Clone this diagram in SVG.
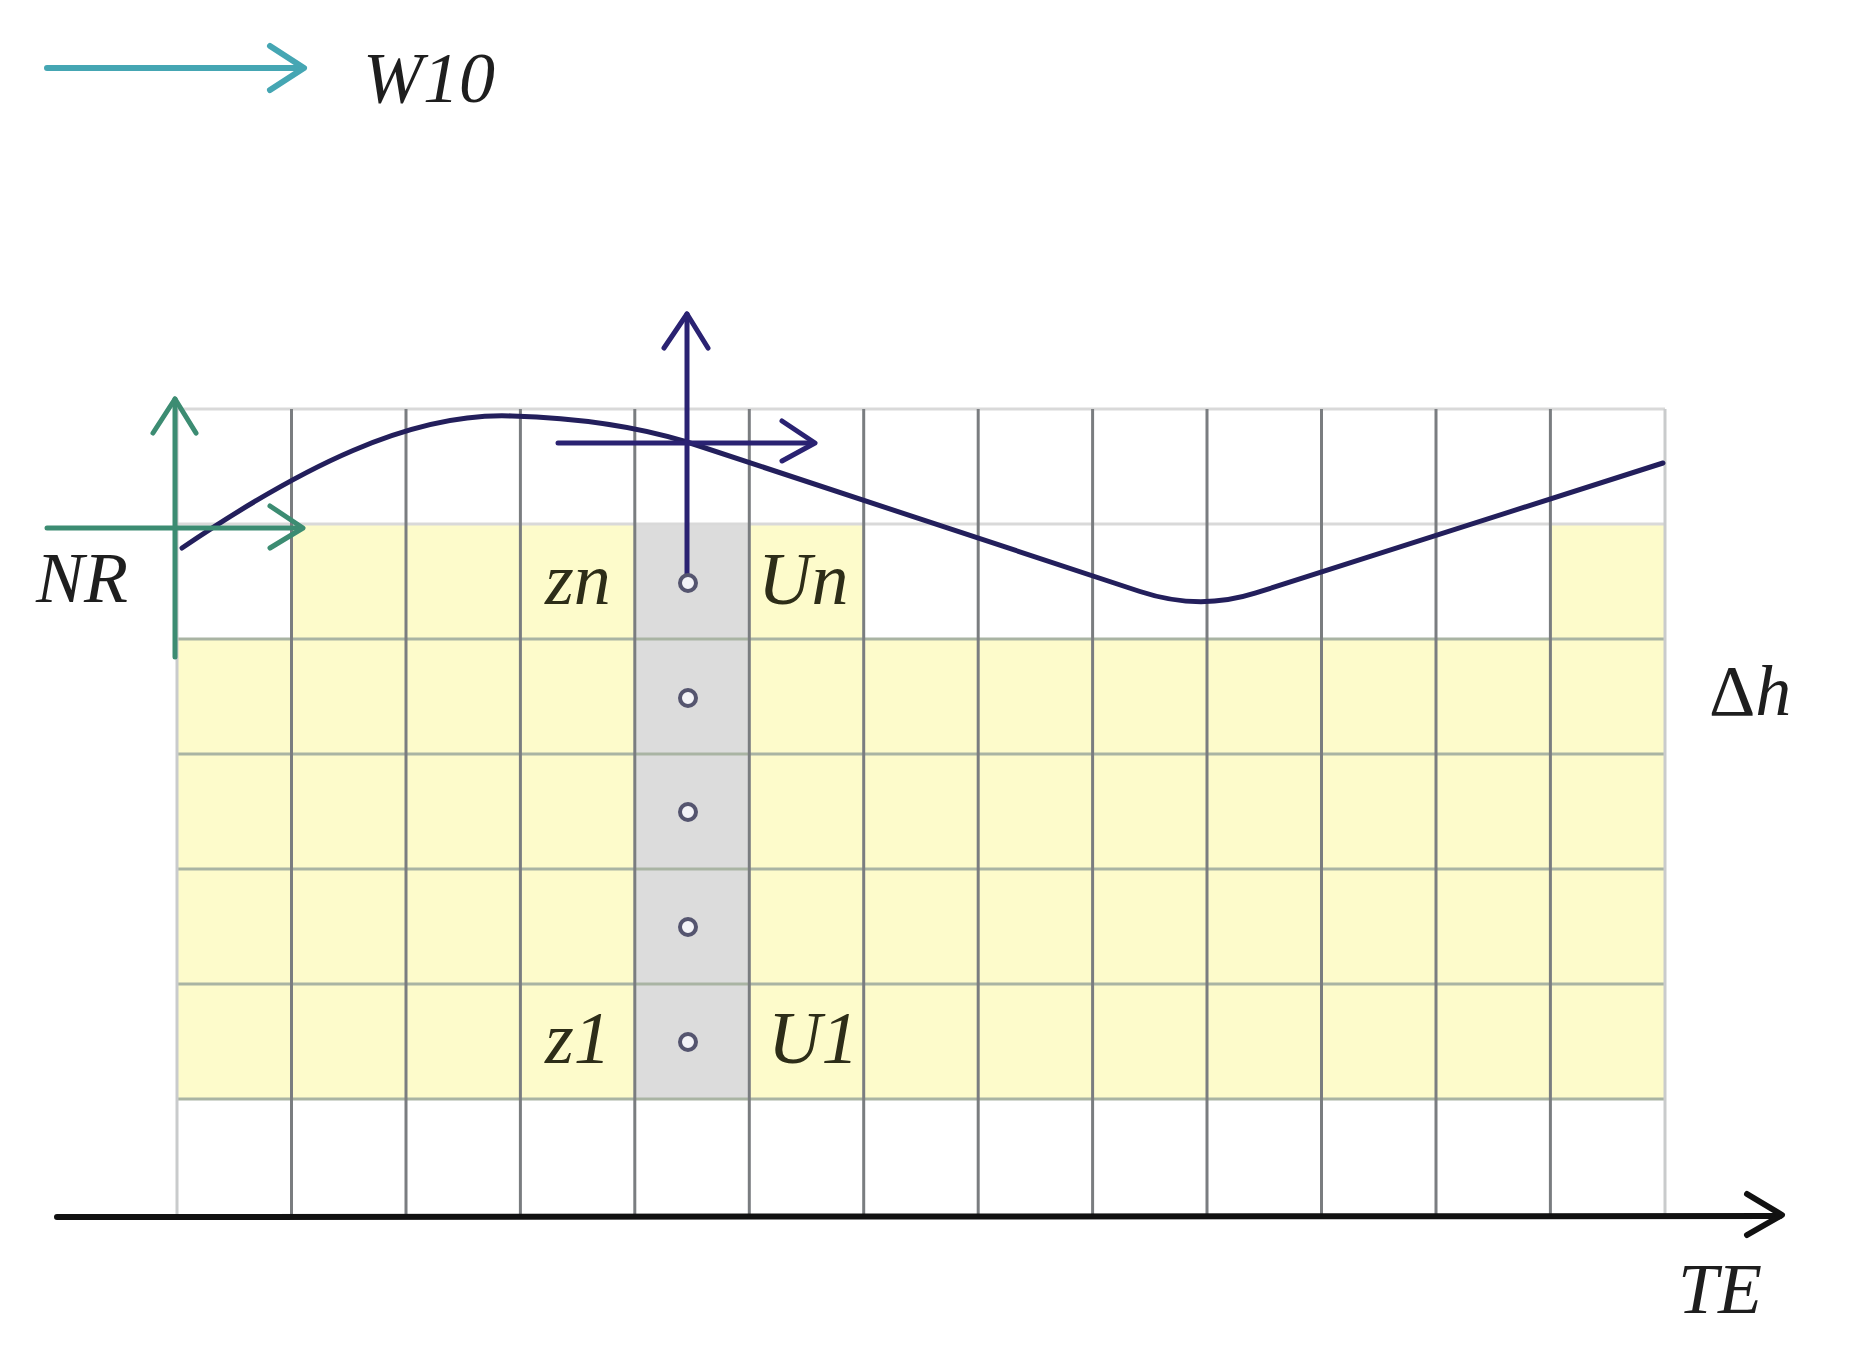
<svg xmlns="http://www.w3.org/2000/svg" width="1867" height="1358" viewBox="0 0 1867 1358">
  <style>
    .lbl { font-family: "Liberation Serif", "Times New Roman", serif; font-style: italic; font-size: 72px; fill: #1e1e1e; }
    .cell-lbl { fill: #2d2d18; font-size: 74px; }
    .yel { fill: #fdfbcb; }
    .gry { fill: #dcdcdc; }
    .vline { stroke: #7a7d80; stroke-width: 3; }
    .vedge { stroke: #c9cbcc; stroke-width: 3; }
    .hline { stroke: #a9b4a3; stroke-width: 3; }
    .htop { stroke: #d9d9d9; stroke-width: 3; }
    .green { stroke: #3c8c72; stroke-width: 5; fill: none; stroke-linecap: round; stroke-linejoin: round; }
    .navy { stroke: #2a2272; stroke-width: 5; fill: none; stroke-linecap: round; stroke-linejoin: round; }
    .teal { stroke: #45a6b3; stroke-width: 6; fill: none; stroke-linecap: round; stroke-linejoin: round; }
    .axis { stroke: #111; stroke-width: 6; fill: none; stroke-linecap: round; stroke-linejoin: round; }
    .curve { stroke: #231f5c; stroke-width: 5; fill: none; stroke-linecap: round; stroke-linejoin: round; }
    .dot { fill: #f4f4f8; stroke: #55556f; stroke-width: 4; }
  </style>
  <rect width="1867" height="1358" fill="#ffffff"/>

  <g id="grid">
    <rect class="yel" x="291" y="524" width="343" height="115"/>
    <rect class="yel" x="748" y="524" width="115" height="115"/>
    <rect class="yel" x="1550" y="524" width="115" height="115"/>
    <rect class="yel" x="177" y="639" width="1488" height="460"/>
    <rect class="gry" x="634" y="524" width="114" height="575"/>
    <line class="htop" x1="177" y1="409" x2="1665" y2="409"/>
    <line class="htop" x1="177" y1="524" x2="1665" y2="524"/>
    <line class="hline" x1="177" y1="639" x2="1665" y2="639"/>
    <line class="hline" x1="177" y1="754" x2="1665" y2="754"/>
    <line class="hline" x1="177" y1="869" x2="1665" y2="869"/>
    <line class="hline" x1="177" y1="984" x2="1665" y2="984"/>
    <line class="hline" x1="177" y1="1099" x2="1665" y2="1099"/>
    <line class="vedge" x1="177" y1="409" x2="177" y2="1216"/>
    <line class="vline" x1="291.5" y1="409" x2="291.5" y2="1216"/>
    <line class="vline" x1="406" y1="409" x2="406" y2="1216"/>
    <line class="vline" x1="520.4" y1="409" x2="520.4" y2="1216"/>
    <line class="vline" x1="634.8" y1="409" x2="634.8" y2="1216"/>
    <line class="vline" x1="749.3" y1="409" x2="749.3" y2="1216"/>
    <line class="vline" x1="863.7" y1="409" x2="863.7" y2="1216"/>
    <line class="vline" x1="978.2" y1="409" x2="978.2" y2="1216"/>
    <line class="vline" x1="1092.6" y1="409" x2="1092.6" y2="1216"/>
    <line class="vline" x1="1207" y1="409" x2="1207" y2="1216"/>
    <line class="vline" x1="1321.5" y1="409" x2="1321.5" y2="1216"/>
    <line class="vline" x1="1436" y1="409" x2="1436" y2="1216"/>
    <line class="vline" x1="1550.4" y1="409" x2="1550.4" y2="1216"/>
    <line class="vedge" x1="1665" y1="409" x2="1665" y2="1216"/>
  </g>

  <g id="surface-curve">
    <path class="curve" d="M182,548 C300,468 410,412 512,416 C580,418 635,426 687,442 L1140,591.5 Q1199,611 1255,593.2 L1663,463"/>
  </g>

  <g id="connectors">
    <line class="teal" x1="47" y1="68" x2="302" y2="68"/>
    <polyline class="teal" points="270,46 304,68 270,90"/>
    <line class="green" x1="175" y1="657" x2="175" y2="399"/>
    <polyline class="green" points="153,433 175,399 196,433"/>
    <line class="green" x1="47" y1="528" x2="301" y2="528"/>
    <polyline class="green" points="270,506 303,528 270,548"/>
    <line class="navy" x1="687" y1="574" x2="687" y2="314"/>
    <polyline class="navy" points="664,348 687,314 708,348"/>
    <line class="navy" x1="558" y1="443" x2="813" y2="443"/>
    <polyline class="navy" points="782,421 815,443 782,461"/>
    <line class="axis" x1="57" y1="1217" x2="1780" y2="1216"/>
    <polyline class="axis" points="1747,1194 1782,1215 1747,1235"/>
  </g>

  <g id="nodes">
    <circle class="dot" cx="688" cy="583" r="8"/>
    <circle class="dot" cx="688" cy="698" r="8"/>
    <circle class="dot" cx="688" cy="812" r="8"/>
    <circle class="dot" cx="688" cy="927" r="8"/>
    <circle class="dot" cx="688" cy="1042" r="8"/>
  </g>

  <g id="labels">
    <text class="lbl" x="363" y="102">W10</text>
    <text class="lbl" x="36" y="602">NR</text>
    <text class="lbl cell-lbl" x="545" y="604">zn</text>
    <text class="lbl cell-lbl" x="758" y="604" font-size="70">Un</text>
    <text class="lbl cell-lbl" x="545" y="1063">z1</text>
    <text class="lbl cell-lbl" x="768" y="1063" font-size="68">U1</text>
    <text class="lbl" x="1709" y="715"><tspan font-style="normal">Δ</tspan>h</text>
    <text class="lbl" x="1678" y="1313">TE</text>
  </g>
</svg>
